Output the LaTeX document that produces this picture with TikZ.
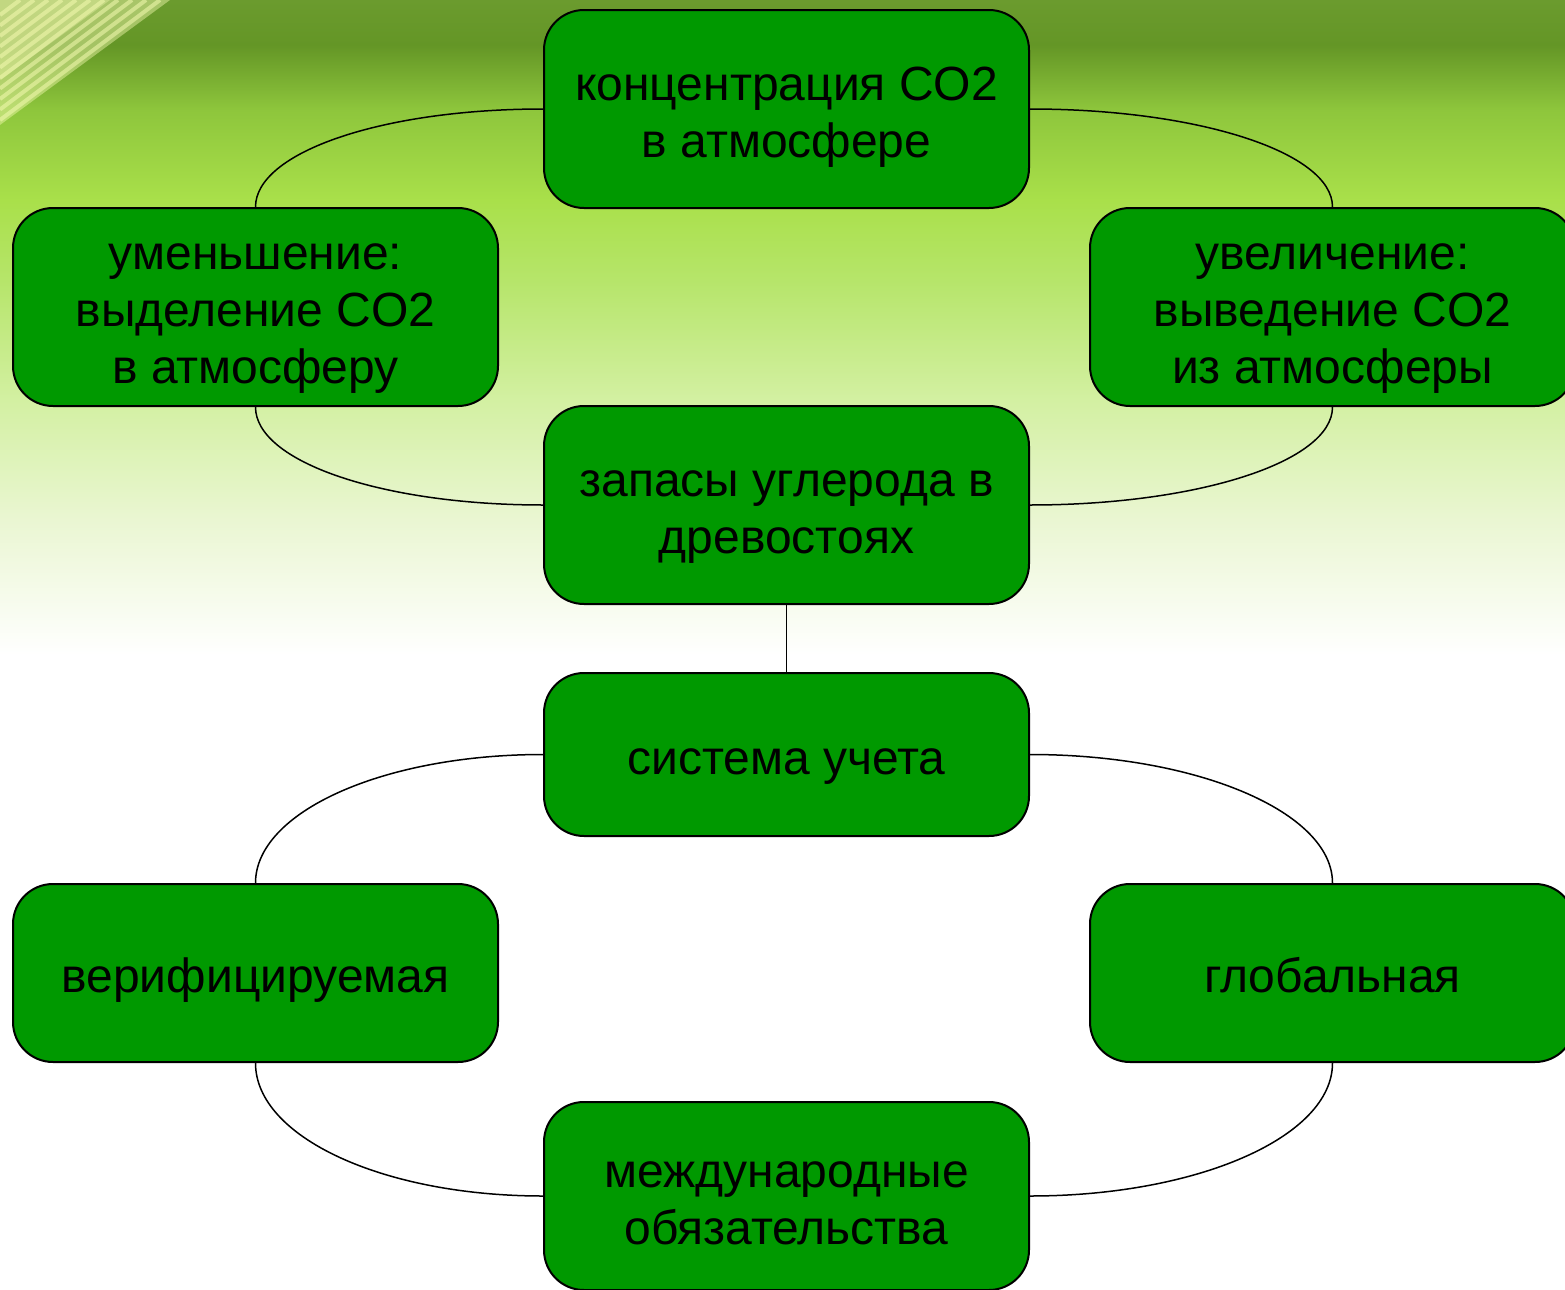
\documentclass[tikz,border=0pt]{standalone}
\usepackage{fontspec}
\setmainfont{Liberation Sans}
\usetikzlibrary{fadings}
\definecolor{boxgreen}{HTML}{009900}
\definecolor{bgA}{HTML}{6B9B2E}
\definecolor{bgB}{HTML}{649626}
\definecolor{bgC}{HTML}{8EC63C}
\definecolor{bgD}{HTML}{A9E04A}
\definecolor{bgE}{HTML}{B6E56A}
\definecolor{bgF}{HTML}{D3F0A2}
\definecolor{bgG}{HTML}{EAF6D2}
\definecolor{raycol}{HTML}{F4FAB0}
\newcommand\boxtext[1]{\begin{tabular}{@{}c@{}}\rule{0pt}{28.5pt}#1\end{tabular}}
\tikzset{
  box/.style={draw=black, line width=1pt, fill=boxgreen, rounded corners=20pt,
    minimum width=242.5pt, minimum height=99pt, inner sep=0pt,
    font=\fontsize{24}{28.5}\selectfont, text=black},
  link/.style={draw=black, line width=0.75pt},
  ray/.style={draw=raycol, line width=2pt, opacity=0.55}
}
\begin{document}
\begin{tikzpicture}[x=0.5pt, y=-0.5pt]
\useasboundingbox (0,0) rectangle (1565,1290);
\clip (0,0) rectangle (1565,1290);
% background
\fill[white] (0,0) rectangle (1565,1290);
\shade[top color=bgA, bottom color=bgB] (0,0) rectangle (1565,45);
\shade[top color=bgB, bottom color=bgC] (0,45) rectangle (1565,110);
\shade[top color=bgC, bottom color=bgD] (0,110) rectangle (1565,200);
\shade[top color=bgD, bottom color=bgE] (0,200) rectangle (1565,280);
\shade[top color=bgE, bottom color=bgF] (0,280) rectangle (1565,400);
\shade[top color=bgF, bottom color=bgG] (0,400) rectangle (1565,520);
\shade[top color=bgG, bottom color=white] (0,520) rectangle (1565,655);
% light rays top-left
\fill[raycol, opacity=0.45] (0,0) -- (170,0) -- (0,125) -- cycle;
\fill[raycol, opacity=0.35] (0,0) -- (110,0) -- (0,80) -- cycle;
\foreach \s in {20,34,...,160} {
  \draw[ray] (\s,0) -- (0,0.75*\s);
}
% nodes
\node[box] (co2) at (786.5,109) {\boxtext{концентрация CO2\\в атмосфере}};
\node[box] (dec) at (255.5,307) {\boxtext{уменьшение:\\выделение CO2\\в атмосферу}};
\node[box] (inc) at (1332.5,307) {\boxtext{увеличение:\\выведение CO2\\из атмосферы}};
\node[box] (stock) at (786.5,505) {\boxtext{запасы углерода в\\древостоях}};
\node[box, minimum height=81.5pt] (sys) at (786.5,754.5) {\boxtext{система учета}};
\node[box, minimum height=89pt] (ver) at (255.5,973) {\boxtext{верифицируемая}};
\node[box, minimum height=89pt] (glob) at (1332.5,973) {\boxtext{глобальная}};
\node[box, minimum height=94pt] (intl) at (786.5,1196) {\boxtext{международные\\обязательства}};
% connectors
\draw[link] (co2.west) .. controls +(-160,0) and +(0,-55) .. (dec.north);
\draw[link] (co2.east) .. controls +(167,0) and +(0,-55) .. (inc.north);
\draw[link] (dec.south) .. controls +(0,55) and +(-160,0) .. (stock.west);
\draw[link] (inc.south) .. controls +(0,55) and +(167,0) .. (stock.east);
\draw[link] (stock.south) -- (sys.north);
\draw[link] (sys.west) .. controls +(-160,0) and +(0,-71) .. (ver.north);
\draw[link] (sys.east) .. controls +(167,0) and +(0,-71) .. (glob.north);
\draw[link] (ver.south) .. controls +(0,74) and +(-160,0) .. (intl.west);
\draw[link] (glob.south) .. controls +(0,74) and +(167,0) .. (intl.east);
\end{tikzpicture}
\end{document}
